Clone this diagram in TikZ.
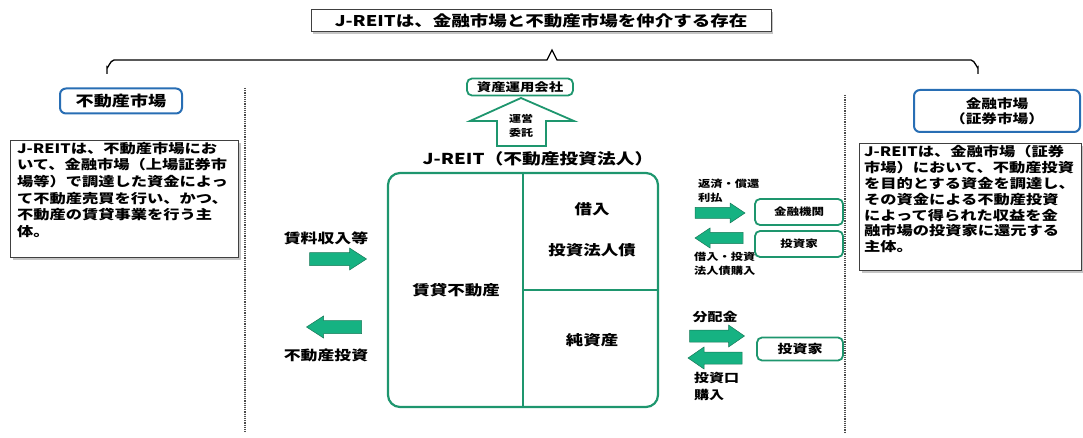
\documentclass[tikz,border=0pt]{standalone}
\usepackage{fontspec}
\setmainfont{Noto Sans CJK JP}[FakeStretch=1.25]
\usetikzlibrary{shadows}
\definecolor{gr}{RGB}{30,150,110}
\definecolor{agr}{RGB}{22,178,130}
\definecolor{bl}{RGB}{40,110,180}
\newcommand{\myfs}[2]{\fontsize{#1}{#2}\selectfont}
% block arrow: #1 x centre, #2 y centre, #3 length, #4 head half height, #5 shaft half height, #6 head length, #7 direction (1 right, -1 left)
\newcommand{\blockarrow}[7]{%
  \filldraw[arr] ({#1-#7*#3/2},{#2-#5}) -- ({#1+#7*(#3/2-#6)},{#2-#5}) -- ({#1+#7*(#3/2-#6)},{#2-#4})
   -- ({#1+#7*#3/2},{#2}) -- ({#1+#7*(#3/2-#6)},{#2+#4}) -- ({#1+#7*(#3/2-#6)},{#2+#5}) -- ({#1-#7*#3/2},{#2+#5}) -- cycle;}
\begin{document}
\begin{tikzpicture}[x=1pt,y=-1pt,font=\bfseries,
  titlebox/.style={draw=black!75,line width=1,fill=white,drop shadow={shadow xshift=2pt,shadow yshift=-2pt,fill=black!45}},
  txtbox/.style={draw=black!75,line width=1,fill=white,drop shadow={shadow xshift=2.5pt,shadow yshift=-2.5pt,fill=black!45}},
  mktbox/.style={draw=bl,line width=2,rounded corners=6,fill=white},
  gbox/.style={draw=gr,line width=1.8,rounded corners=5,fill=white,inner sep=0},
  gline/.style={draw=gr,line width=2.2},
  arr/.style={fill=agr,draw=gr!80!black,line width=0.5},
  dots/.style={densely dotted,line width=1.2,black!70}]
\useasboundingbox (0,0) rectangle (1083,438);
% title and brace
\node[titlebox,minimum width=460,minimum height=22,inner sep=0,font=\bfseries\myfs{14.8}{16}] (title) at (541,21) {J-REITは、金融市場と不動産市場を仲介する存在};
\draw[line width=1.3] (107,74) -- (107,67) to[out=-90,in=180] (114,60) -- (547,60) -- (552,50) -- (557,60) -- (971,60) to[out=0,in=-90] (978,67) -- (978,74);
% dotted separators
\draw[dots] (245,88) -- (245,432);
\draw[dots] (845,95) -- (845,432);
% left market
\node[mktbox,minimum width=122,minimum height=25,inner sep=0,font=\bfseries\myfs{14.5}{16}] (fdm) at (121,101) {不動産市場};
\node[txtbox,anchor=north west,minimum width=228,minimum height=117,inner sep=0] (ltb) at (10,140) {};
\node[anchor=north west,align=left,inner sep=0,font=\bfseries\myfs{13}{16.6}] (ltt) at (17,142) {J-REITは、不動産市場にお\\いて、金融市場（上場証券市\\場等）で調達した資金によっ\\て不動産売買を行い、かつ、\\不動産の賃貸事業を行う主\\体。};
% right market
\node[mktbox,minimum width=166,minimum height=42,inner sep=0,align=center,font=\bfseries\myfs{12.5}{15}] (kym) at (997,111) {金融市場\\（証券市場）};
\node[txtbox,anchor=north west,minimum width=222,minimum height=127,inner sep=0] (rtb) at (859,143) {};
\node[anchor=north west,align=left,inner sep=0,font=\bfseries\myfs{13}{15.9}] (rtt) at (864,145) {J-REITは、金融市場（証券\\市場）において、不動産投資\\を目的とする資金を調達し、\\その資金による不動産投資\\によって得られた収益を金\\融市場の投資家に還元する\\主体。};
% asset management
\node[gbox,minimum width=106,minimum height=17,font=\bfseries\myfs{11.5}{12}] (am) at (520,87) {資産運用会社};
\draw[gr,line width=1.8,fill=white] (521,98) -- (574,121) -- (546,121) -- (546,146) -- (497,146) -- (497,121) -- (470,121) -- cycle;
\node[align=center,inner sep=0,font=\bfseries\myfs{9.6}{14}] (ut) at (521,126) {運営\\委託};
% J-REIT box
\node[font=\bfseries\myfs{15}{16}] (jlab) at (538,159) {J-REIT（不動産投資法人）};
\node[gline,rounded corners=12,minimum width=270,minimum height=234] (jr) at (523,290) {};
\draw[gline] (jr.north) -- (jr.south);
\draw[gline] (jr.center) -- (jr.east);
\node[font=\bfseries\myfs{14}{16}] (kr) at (592,209) {借入};
\node[font=\bfseries\myfs{14}{16}] (tb) at (592,250) {投資法人債};
\node[font=\bfseries\myfs{14}{16}] (cf) at (456,290) {賃貸不動産};
\node[font=\bfseries\myfs{14}{16}] (js) at (592,340) {純資産};
% left arrows
\node[font=\bfseries\myfs{13.5}{15}] (l1) at (326,238) {賃料収入等};
\blockarrow{338}{259}{57}{11}{6.5}{17}{1}
\blockarrow{334}{327}{55}{11}{6.5}{17}{-1}
\node[font=\bfseries\myfs{13.5}{15}] (l2) at (326,355) {不動産投資};
% right upper
\node[anchor=north west,align=left,inner sep=0,font=\bfseries\myfs{9.8}{14}] (l3) at (698,179) {返済・償還\\利払};
\blockarrow{720}{213}{50}{10}{5.5}{15}{1}
\blockarrow{719}{238}{48}{10}{5.5}{15}{-1}
\node[anchor=north west,align=left,inner sep=0,font=\bfseries\myfs{9.8}{14}] (l4) at (694,252) {借入・投資\\法人債購入};
\node[gbox,minimum width=88,minimum height=26,font=\bfseries\myfs{10}{12}] (kb) at (799,212) {金融機関};
\node[gbox,minimum width=88,minimum height=26,font=\bfseries\myfs{10}{12}] (ib1) at (799,244) {投資家};
% right lower
\node[font=\bfseries\myfs{12}{14}] (l5) at (715,317) {分配金};
\blockarrow{717}{336}{55}{11}{6}{16}{1}
\blockarrow{715}{358}{54}{11}{6}{16}{-1}
\node[anchor=north west,align=left,inner sep=0,font=\bfseries\myfs{12}{17}] (l6) at (694,372) {投資口\\購入};
\node[gbox,minimum width=86,minimum height=23,font=\bfseries\myfs{12}{14}] (ib2) at (800,349) {投資家};
\end{tikzpicture}
\end{document}
